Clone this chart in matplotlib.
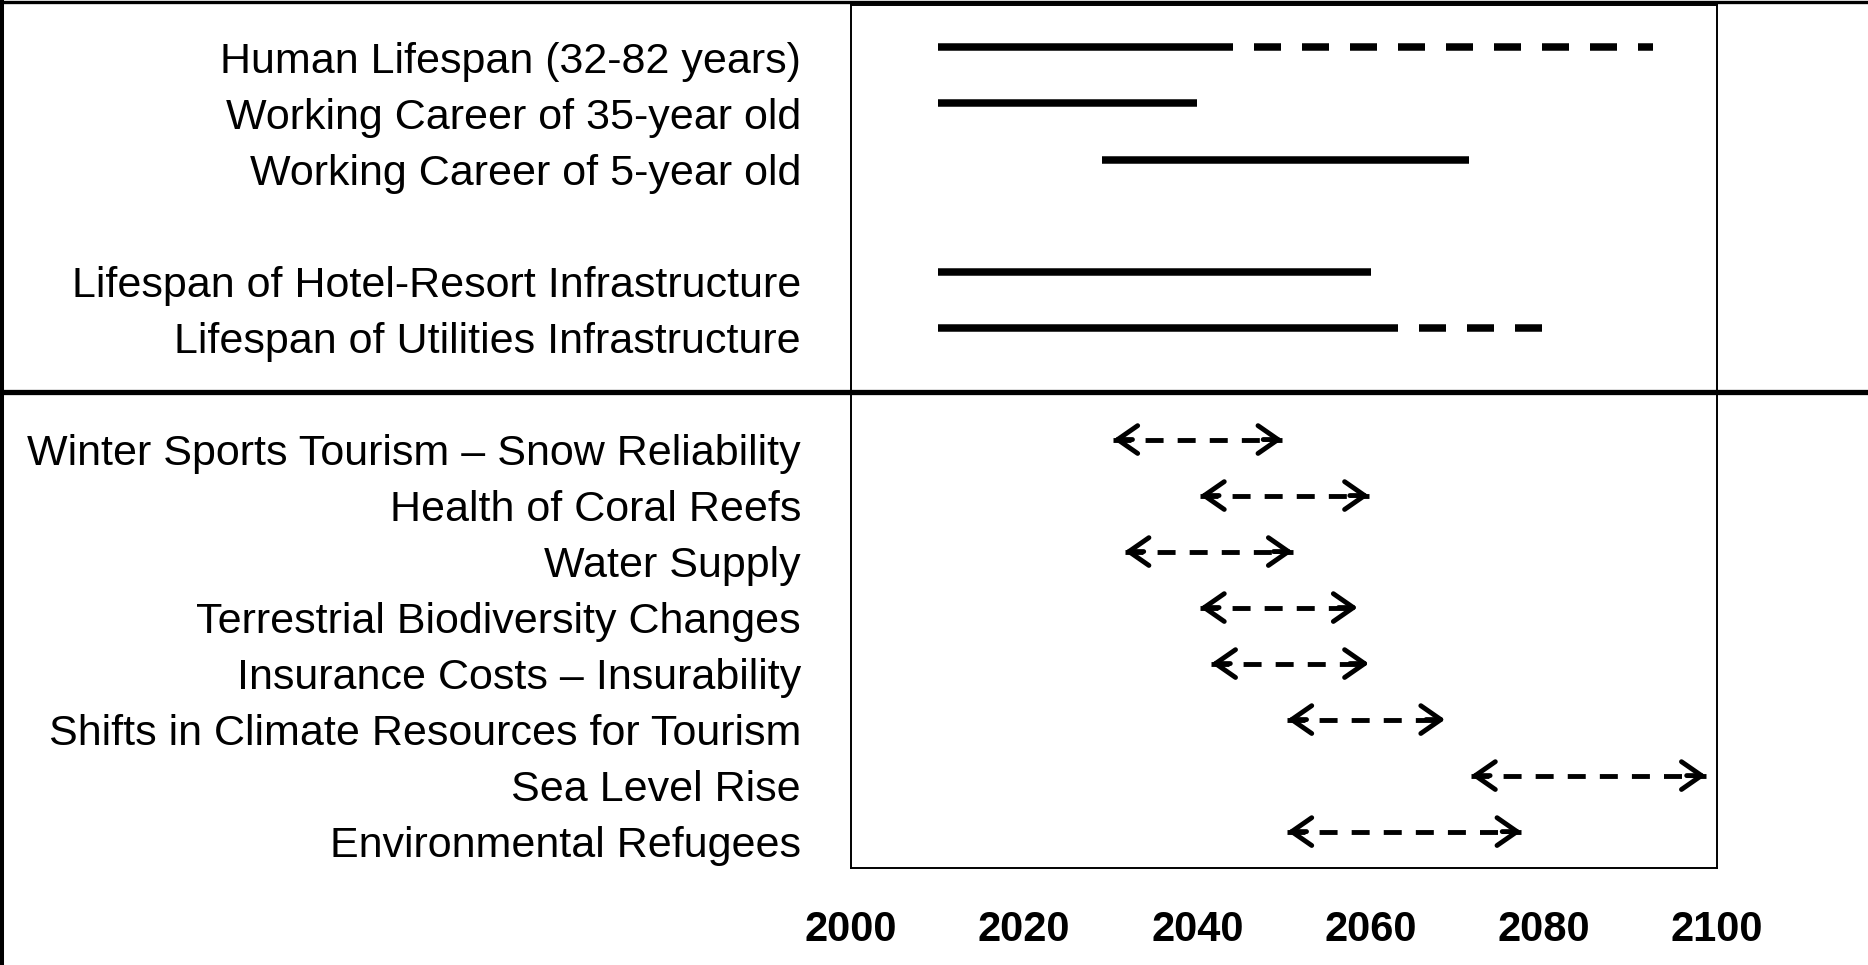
import matplotlib
matplotlib.use("Agg")
import matplotlib.pyplot as plt
from matplotlib.lines import Line2D

plt.rcParams['font.family'] = ['Liberation Sans', 'DejaVu Sans']

# row labels, top to bottom ("" = empty row between the groups)
labels = ["Human Lifespan (32-82 years)",
          "Working Career of 35-year old",
          "Working Career of 5-year old",
          "",
          "Lifespan of Hotel-Resort Infrastructure",
          "Lifespan of Utilities Infrastructure",
          "",
          "Winter Sports Tourism \u2013 Snow Reliability",
          "Health of Coral Reefs",
          "Water Supply",
          "Terrestrial Biodiversity Changes",
          "Insurance Costs \u2013 Insurability",
          "Shifts in Climate Resources for Tourism",
          "Sea Level Rise",
          "Environmental Refugees"]

# planning horizons: solid part, then optional dashed part
horizon_rows = [0, 1, 2, 4, 5]
horizon_start = [2010, 2010, 2029, 2010, 2010]
horizon_solid_end = [2041, 2040, 2071.4, 2060, 2060]
horizon_dash_end = [2092.6, None, None, None, 2080]

# climate change impact windows (double arrows)
impact_rows = [7, 8, 9, 10, 11, 12, 13, 14]
impact_start = [2030.3, 2040.3, 2031.6, 2040.3, 2041.6, 2050.4, 2071.6, 2050.4]
impact_end = [2049.8, 2059.8, 2051.0, 2058.5, 2059.8, 2068.6, 2098.7, 2077.4]

years = [2000, 2020, 2040, 2060, 2080, 2100]

fig = plt.figure(figsize=(18.68, 9.65), dpi=100)
ax = fig.add_axes([851 / 1868, 1 - 868 / 965, (1717 - 851) / 1868, (868 - 4.5) / 965])

off = -0.17  # marks sit a little above the text centre
bar_lw = 5.4
for r, s, e, d in zip(horizon_rows, horizon_start, horizon_solid_end, horizon_dash_end):
    ax.plot([s, e], [r + off, r + off], color='black', lw=bar_lw, solid_capstyle='butt')
    if d is not None:
        ax.plot([e, d], [r + off, r + off], color='black', lw=bar_lw,
                ls=(0, (3.6, 2.8)), dash_capstyle='butt')

arr_lw = 3.5
head = dict(arrowstyle='->,head_length=0.72,head_width=0.5', color='black', lw=arr_lw,
            shrinkA=0, shrinkB=0, mutation_scale=20, capstyle='round', joinstyle='round')
for r, s, e in zip(impact_rows, impact_start, impact_end):
    y = r + off
    ax.plot([s, e], [y, y], color='black', lw=arr_lw, ls=(0, (3.7, 2.9)), dash_capstyle='butt')
    ax.annotate('', xy=(s, y), xytext=(s + 2.2, y), arrowprops=head)
    ax.annotate('', xy=(e, y), xytext=(e - 2.2, y), arrowprops=head)

ax.set_xlim(2000, 2100)
ax.set_ylim(14.48, -0.9375)

ax.set_xticks(years)
ax.set_xticklabels([str(y) for y in years], fontsize=30, fontweight='bold')
ax.tick_params(axis='x', length=0, pad=30)

rows = [i for i, t in enumerate(labels) if t]
ax.set_yticks(rows)
ax.set_yticklabels([labels[i] for i in rows], fontsize=31)
ax.tick_params(axis='y', length=0, pad=36)

for sp in ax.spines.values():
    sp.set_linewidth(1.4)

# outer frame lines and group separator
fig.add_artist(Line2D([0, 1], [1 - 1.5 / 965] * 2, color='black', lw=2.4))
fig.add_artist(Line2D([2 / 1868] * 2, [0, 1], color='black', lw=2.9))
fig.add_artist(Line2D([0, 1], [1 - 392 / 965] * 2, color='black', lw=3.8))

fig.savefig('out.png', dpi=100)
